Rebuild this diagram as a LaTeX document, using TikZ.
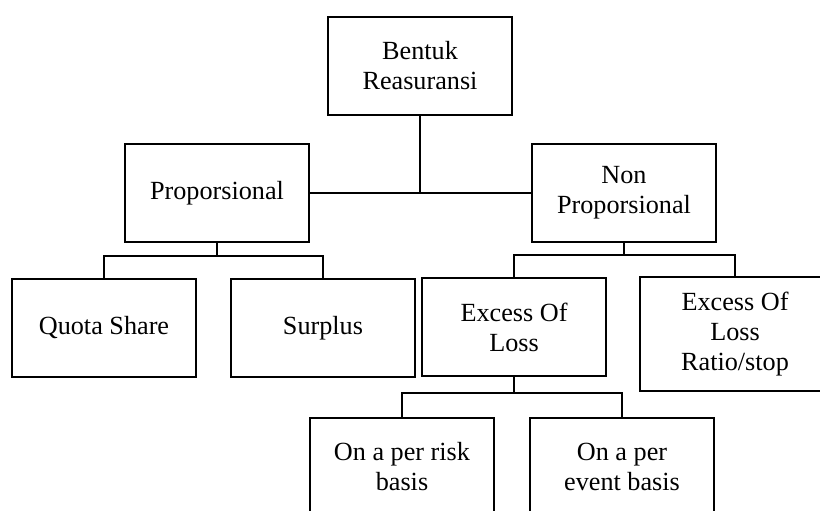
\documentclass[tikz,border=0pt]{standalone}
\usepackage{fontspec}
\setmainfont{Liberation Serif}
\usepackage{tikz}
\usetikzlibrary{calc,positioning}

\begin{document}
\begin{tikzpicture}[x=0.5pt, y=-0.5pt, line width=0.8pt]
   \clip (0,0) rectangle (820,510);
   \begin{scope}[every node/.style={draw=black,rectangle,align=center,minimum width=92pt,minimum height=49pt,font=\fontsize{13.1}{15}\selectfont}]
    \node (bentuk) at (420,66) {Bentuk\\Reasuransi};
    \node (prop) at (217,193) {Proporsional};
    \node (nonprop) at (624,193) {Non\\Proporsional};
    \node (quota) at (104,328) {Quota Share};
    \node (surplus) at (323,328) {Surplus};
    \node (xol) at (514,327) {Excess Of\\Loss};
    \node (ratio) [minimum width=95pt,minimum height=57pt] at (735,334) {Excess Of\\Loss\\Ratio/stop};
    \node (risk) at (402,467) {On a per risk\\basis};
    \node (event) at (622,467) {On a per\\event basis};
   \end{scope}
   % junctions of the tree lines
   \coordinate (jprop) at ($(prop.south)+(0,13)$);
   \coordinate (jnon) at ($(nonprop.south)+(0,12)$);
   \coordinate (jxol) at ($(xol.south)+(0,16)$);
   \begin{scope}[every path/.style={draw=black}]
    \draw (bentuk.south) -- (bentuk.south |- prop.east);
    \draw (prop.east) -- (nonprop.west);
    \draw (prop.south) -- (jprop);
    \draw (quota.north) |- (jprop) -| (surplus.north);
    \draw (nonprop.south) -- (jnon);
    \draw (xol.north) |- (jnon) -| (ratio.north);
    \draw (xol.south) -- (jxol);
    \draw (risk.north) |- (jxol) -| (event.north);
   \end{scope}
\end{tikzpicture}
\end{document}
